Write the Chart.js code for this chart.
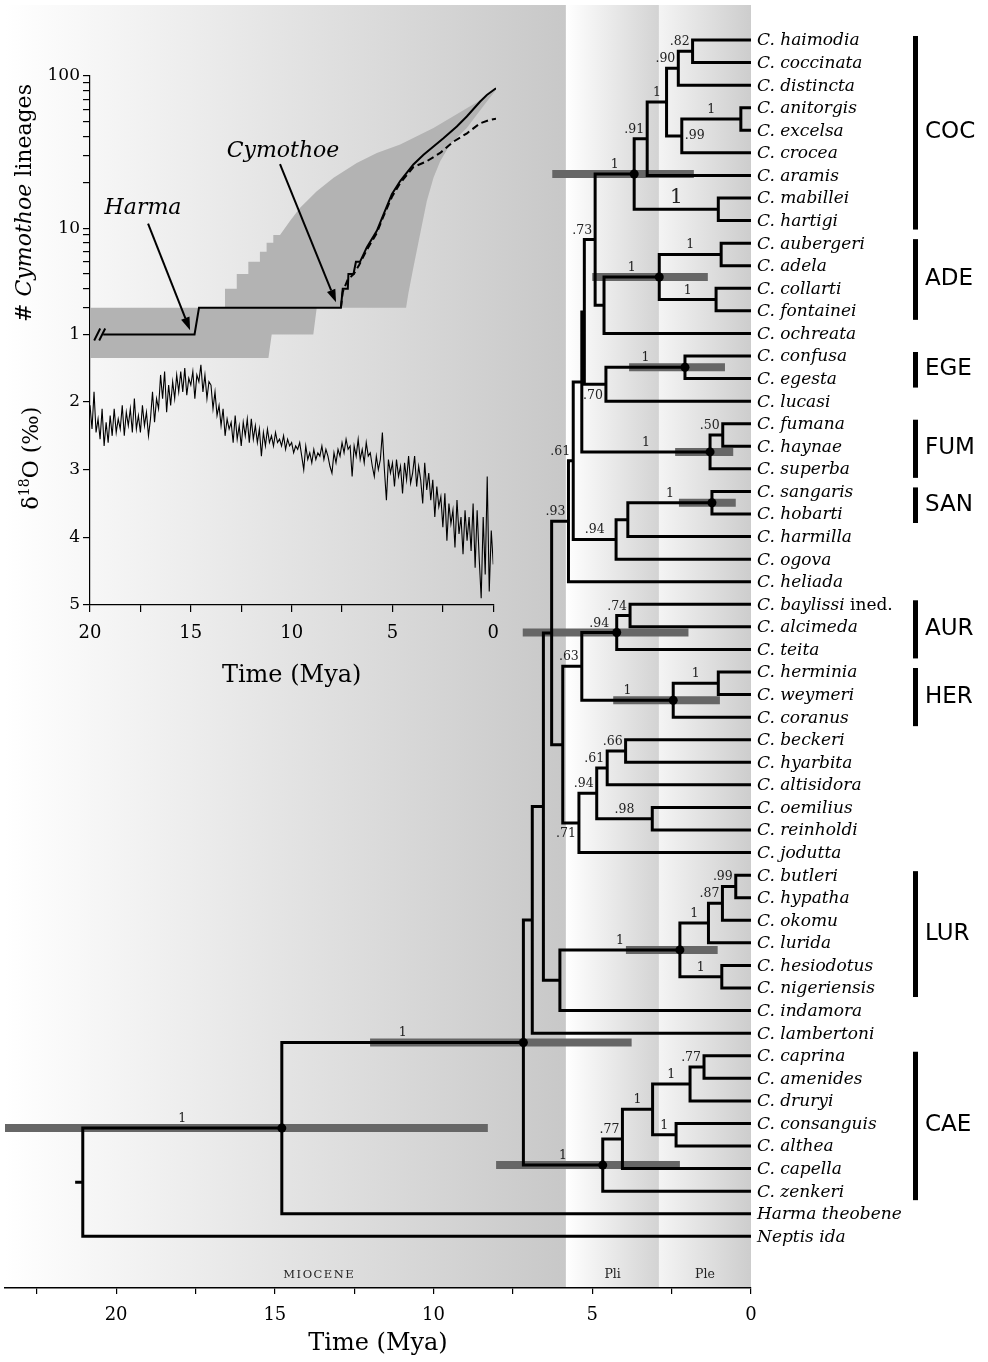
<!DOCTYPE html>
<html>
<head>
  <meta charset="utf-8">
  <title>Cymothoe chronogram</title>
  <script src="https://cdn.jsdelivr.net/npm/chart.js"></script>
  <style>
    body { margin: 0; background: #fff; }
    #wrap { position: relative; width: 988px; height: 1362px; }
    canvas { position: absolute; left: 0; }
  </style>
</head>
<body>
<div id="wrap">
  <canvas id="treeChart" width="988" height="1362" style="top:0"></canvas>
  <canvas id="lttChart" width="510" height="358" style="top:0"></canvas>
  <canvas id="isoChart" width="510" height="342" style="top:358px"></canvas>
</div>
<script>
// ------------------- DATA --------------------
const tips = [
  'C. haimodia', 'C. coccinata', 'C. distincta', 'C. anitorgis', 'C. excelsa', 'C. crocea',
  'C. aramis', 'C. mabillei', 'C. hartigi', 'C. aubergeri', 'C. adela', 'C. collarti',
  'C. fontainei', 'C. ochreata', 'C. confusa', 'C. egesta', 'C. lucasi', 'C. fumana',
  'C. haynae', 'C. superba', 'C. sangaris', 'C. hobarti', 'C. harmilla', 'C. ogova',
  'C. heliada', 'C. baylissi ined.', 'C. alcimeda', 'C. teita', 'C. herminia', 'C. weymeri',
  'C. coranus', 'C. beckeri', 'C. hyarbita', 'C. altisidora', 'C. oemilius', 'C. reinholdi',
  'C. jodutta', 'C. butleri', 'C. hypatha', 'C. okomu', 'C. lurida', 'C. hesiodotus',
  'C. nigeriensis', 'C. indamora', 'C. lambertoni', 'C. caprina', 'C. amenides', 'C. druryi',
  'C. consanguis', 'C. althea', 'C. capella', 'C. zenkeri', 'Harma theobene', 'Neptis ida'
];

// internal nodes: id, child 1, child 2, age (Mya), posterior support
const nodes = [
  ['n1', 'C. haimodia', 'C. coccinata', 1.84, '.82'],
  ['n2', 'n1', 'C. distincta', 2.29, '.90'],
  ['n3', 'C. anitorgis', 'C. excelsa', 0.32, '1'],
  ['n4', 'n3', 'C. crocea', 2.18, '.99'],
  ['n5', 'n2', 'n4', 2.66, '1'],
  ['n6', 'n5', 'C. aramis', 3.27, '.91'],
  ['n7', 'C. mabillei', 'C. hartigi', 1.03, '1'],
  ['n8', 'n6', 'n7', 3.68, '1'],
  ['n9', 'C. aubergeri', 'C. adela', 0.94, '1'],
  ['n10', 'C. collarti', 'C. fontainei', 1.10, '1'],
  ['n11', 'n9', 'n10', 2.89, '1'],
  ['n12', 'n11', 'C. ochreata', 4.63, null],
  ['n13', 'n8', 'n12', 4.91, '.73'],
  ['n14', 'C. confusa', 'C. egesta', 2.08, '1'],
  ['n15', 'n14', 'C. lucasi', 4.57, '.70'],
  ['n16', 'n13', 'n15', 5.25, null],
  ['n17', 'C. fumana', 'C. haynae', 0.89, '.50'],
  ['n18', 'n17', 'C. superba', 1.29, '1'],
  ['n19', 'n16', 'n18', 5.33, null],
  ['n20', 'C. sangaris', 'C. hobarti', 1.23, '1'],
  ['n21', 'n20', 'C. harmilla', 3.88, null],
  ['n22', 'n21', 'C. ogova', 4.25, '.94'],
  ['n23', 'n19', 'n22', 5.60, '.61'],
  ['n24', 'n23', 'C. heliada', 5.75, '.93'],
  ['n25', 'C. baylissi ined.', 'C. alcimeda', 3.81, '.74'],
  ['n26', 'n25', 'C. teita', 4.23, '.94'],
  ['n27', 'C. herminia', 'C. weymeri', 1.03, '1'],
  ['n28', 'n27', 'C. coranus', 2.45, '1'],
  ['n29', 'n26', 'n28', 5.33, '.63'],
  ['n30', 'C. beckeri', 'C. hyarbita', 3.95, '.66'],
  ['n31', 'n30', 'C. altisidora', 4.53, '.61'],
  ['n32', 'C. oemilius', 'C. reinholdi', 3.11, '.98'],
  ['n33', 'n31', 'n32', 4.86, '.94'],
  ['n34', 'n33', 'C. jodutta', 5.42, '.71'],
  ['n35', 'n29', 'n34', 5.93, null],
  ['n36', 'n24', 'n35', 6.28, null],
  ['n37', 'C. butleri', 'C. hypatha', 0.48, '.99'],
  ['n38', 'n37', 'C. okomu', 0.90, '.87'],
  ['n39', 'n38', 'C. lurida', 1.34, '1'],
  ['n40', 'C. hesiodotus', 'C. nigeriensis', 0.92, '1'],
  ['n41', 'n39', 'n40', 2.24, '1'],
  ['n42', 'n41', 'C. indamora', 6.02, null],
  ['n43', 'n36', 'n42', 6.54, null],
  ['n44', 'n43', 'C. lambertoni', 6.89, null],
  ['n45', 'C. caprina', 'C. amenides', 1.48, '.77'],
  ['n46', 'n45', 'C. druryi', 1.92, '1'],
  ['n47', 'C. consanguis', 'C. althea', 2.36, '1'],
  ['n48', 'n46', 'n47', 3.10, '1'],
  ['n49', 'n48', 'C. capella', 4.05, '.77'],
  ['n50', 'n49', 'C. zenkeri', 4.67, '1'],
  ['n51', 'n44', 'n50', 7.17, '1'],
  ['n52', 'n51', 'Harma theobene', 14.78, '1'],
  ['n53', 'n52', 'Neptis ida', 21.05, null]
];
const rootStemAge = 21.29;

// 95% HPD of node ages (old, young)
const hpdNodes = ['n8', 'n11', 'n14', 'n18', 'n20', 'n26', 'n28', 'n41', 'n50', 'n51', 'n52'];
const hpdOld   = [6.26, 5.00, 3.84, 2.39, 2.27, 7.19, 4.34, 3.94, 8.03, 12.0, 23.53];
const hpdYoung = [1.80, 1.36, 0.82, 0.56, 0.48, 1.97, 0.98, 1.05, 2.24, 3.76, 8.29];

const labelRight = ['n4'];
const labelBelow = ['n15', 'n34'];
const labelLarge = ['n7'];

const cladeNames = ['COC', 'ADE', 'EGE', 'FUM', 'SAN', 'AUR', 'HER', 'LUR', 'CAE'];
const cladeFirst = ['C. haimodia', 'C. aubergeri', 'C. confusa', 'C. fumana', 'C. sangaris',
                    'C. baylissi ined.', 'C. herminia', 'C. butleri', 'C. caprina'];
const cladeLast  = ['C. hartigi', 'C. fontainei', 'C. egesta', 'C. superba', 'C. hobarti',
                    'C. teita', 'C. coranus', 'C. nigeriensis', 'C. zenkeri'];

const epochNames = ['MIOCENE', 'Pli', 'Ple'];
const epochStart = [23.5, 5.83, 2.9];
const epochEnd   = [5.83, 2.9, 0];
const epochLabelAge = [13.6, 4.36, 1.45];

// lineage-through-time inset
const lttSolidAge = [19.35, 14.85, 14.63, 7.64, 7.55, 7.3, 7.27, 7.02, 6.9, 6.7, 6.36, 5.87, 5.54, 5.13,
                     4.72, 4.07, 3.57, 2.59, 1.93, 1.44, 0.78, 0.45, 0];
const lttSolidN   = [2, 2, 3, 3, 4, 4, 5, 5, 6, 6, 7.5, 9.6, 12.3, 16.7,
                     20.4, 26.2, 30.4, 39, 46.6, 54.2, 68, 75, 83];
const lttDashAge  = [7.64, 7.55, 7.3, 7.0, 6.75, 6.36, 5.87, 5.54, 5.13, 4.72, 4.07, 3.41, 2.75,
                     2.1, 1.43, 0.78, 0.29, 0];
const lttDashN    = [3, 3.8, 4.6, 5, 5.7, 7.2, 9.3, 12, 16, 19.8, 25.2, 27.5, 31.2,
                     37, 42, 48.9, 51.5, 52.4];
const envAge = [20, 13.35, 13.35, 12.77, 12.77, 12.2, 12.2, 11.63, 11.63, 11.3, 11.3, 10.97, 10.97,
                10.64, 10.14, 9.65, 8.83, 8.0, 6.86, 5.87, 4.72, 3.08, 1.44, 0.45, 0,
                0.45, 1.44, 2.26, 2.75, 3.08, 3.41, 3.74, 4.07, 4.32, 4.43,
                8.83, 9.0, 11.05, 11.21, 20, 20];
const envN   = [3, 3, 4, 4, 5, 5, 6, 6, 7, 7, 8, 8, 9,
                9, 11.2, 13.6, 17.5, 21.4, 26.8, 31.2, 35.4, 45.5, 61.4, 73.3, 81,
                68, 45.5, 35.4, 27.5, 21.4, 15, 9.1, 5.5, 3.7, 3.0,
                3, 2, 2, 1.4, 1.4, 3];
const lttTickValues = [2, 3, 4, 5, 6, 7, 8, 9, 10, 20, 30, 40, 50, 60, 70, 80, 90, 100];
const lttTickText   = ['1', '', '', '', '', '', '', '', '10', '', '', '', '', '', '', '', '', '100'];

const arrowText = ['Harma', 'Cymothoe'];
const arrowTextAge = [17.39, 10.49];
const arrowTextN   = [13.4, 31.9];
const arrowFromAge = [17.14, 10.64];
const arrowFromN   = [10.7, 26.3];
const arrowToAge   = [15.07, 7.88];
const arrowToN     = [2.13, 3.25];

// benthic d18O record, read every 0.1 Myr from 20 Mya to present
const isoStartAge = 20;
const isoStep = 0.1;
const isoValues = [
  2.05, 2.40, 1.85, 2.45, 2.25,
  2.55, 2.10, 2.65, 2.30, 2.60,
  2.20, 2.50, 2.10, 2.45, 2.25,
  2.40, 2.05, 2.50, 2.15, 2.35,
  2.10, 2.45, 1.95, 2.40, 2.20,
  2.45, 2.05, 2.35, 2.15, 2.50,
  2.25, 1.85, 2.30, 1.95, 2.10,
  1.60, 1.95, 1.55, 2.15, 1.75,
  2.05, 1.70, 1.95, 1.60, 1.85,
  1.55, 1.85, 1.50, 1.90, 1.65,
  1.75, 1.55, 1.95, 1.60, 1.70,
  1.45, 1.85, 1.60, 1.95, 1.70,
  1.75, 2.10, 1.85, 2.20, 2.05,
  2.35, 2.10, 2.50, 2.25, 2.40,
  2.30, 2.60, 2.20, 2.55, 2.35,
  2.65, 2.30, 2.50, 2.25, 2.60,
  2.25, 2.55, 2.35, 2.60, 2.40,
  2.80, 2.45, 2.65, 2.40, 2.60,
  2.50, 2.65, 2.45, 2.60, 2.55,
  2.65, 2.50, 2.70, 2.55, 2.65,
  2.60, 2.75, 2.65, 2.70, 2.60,
  2.80, 3.00, 2.65, 2.85, 2.75,
  2.90, 2.70, 2.85, 2.75, 2.80,
  2.65, 2.85, 2.70, 2.80, 2.95,
  3.05, 2.75, 2.90, 2.70, 2.80,
  2.60, 2.75, 2.55, 2.70, 2.65,
  3.10, 2.65, 2.80, 2.55, 2.85,
  2.70, 2.90, 2.60, 2.80, 2.75,
  2.95, 3.10, 2.80, 3.00, 2.85,
  2.45, 3.00, 3.45, 2.85, 3.05,
  2.90, 3.25, 2.85, 3.10, 2.95,
  3.35, 2.90, 3.15, 2.80, 3.20,
  3.05, 2.80, 3.25, 2.95, 3.15,
  3.50, 2.90, 3.30, 3.05, 3.45,
  3.15, 3.70, 3.25, 3.55, 3.40,
  3.85, 3.35, 4.05, 3.50, 3.80,
  3.60, 4.15, 3.45, 3.95, 3.70,
  4.25, 3.60, 4.05, 3.70, 4.20,
  3.50, 4.45, 3.60, 4.30, 4.90,
  3.70, 4.55, 3.10, 4.80, 3.90,
  4.40
];

// ------------------- TREE GEOMETRY --------------------
const SERIF = '"DejaVu Serif", serif';
const nodeAge = {}, nodeY = {}, parentOf = {};
function yOf(k) { return k in nodeY ? nodeY[k] : tips.indexOf(k); }
function ageOf(k) { return k in nodeAge ? nodeAge[k] : 0; }
nodes.forEach(([id, a, b, age]) => {
  nodeAge[id] = age;
  nodeY[id] = (yOf(a) + yOf(b)) / 2;
  parentOf[a] = id; parentOf[b] = id;
});

const branchPts = [];
nodes.forEach(([id, a, b, age]) => {
  [a, b].forEach(c => {
    branchPts.push({x: age, y: nodeY[id]}, {x: age, y: yOf(c)}, {x: ageOf(c), y: yOf(c)}, {x: null, y: null});
  });
});
branchPts.push({x: rootStemAge, y: nodeY.n53}, {x: nodeAge.n53, y: nodeY.n53});

const hpdPts = [];
hpdNodes.forEach((id, i) => {
  hpdPts.push({x: hpdOld[i], y: nodeY[id]}, {x: hpdYoung[i], y: nodeY[id]}, {x: null, y: null});
});
const dotPts = hpdNodes.map(id => ({x: nodeAge[id], y: nodeY[id]}));

// vertical axes keep their full height (no extra room for edge labels)
function fixAxisWidth(s) {
  s.width = 90;
  s.paddingTop = 0;
  s.paddingBottom = 0;
}

// ------------------- TREE PLUGIN --------------------
const epochShade = [['#ffffff', '#c8c8c8'], ['#ffffff', '#d3d3d3'], ['#f4f4f4', '#cdcdcd']];

const treeDecor = {
  id: 'treeDecor',
  beforeDraw(chart) {
    const {ctx, chartArea: a, scales: {x}} = chart;
    ctx.save();
    epochNames.forEach((name, i) => {
      const x0 = x.getPixelForValue(epochStart[i]), x1 = x.getPixelForValue(epochEnd[i]);
      const g = ctx.createLinearGradient(x0, 0, x1, 0);
      g.addColorStop(0, epochShade[i][0]);
      g.addColorStop(1, epochShade[i][1]);
      ctx.fillStyle = g;
      ctx.fillRect(x0, a.top, x1 - x0, a.bottom - a.top);
    });
    ctx.restore();
  },
  beforeDatasetsDraw(chart) {
    const {ctx, chartArea: a, scales: {x}} = chart;
    ctx.save();
    ctx.fillStyle = '#222';
    ctx.textAlign = 'center';
    ctx.textBaseline = 'middle';
    epochNames.forEach((name, i) => {
      ctx.font = (i === 0 ? '11.5px ' : '12.5px ') + SERIF;
      ctx.letterSpacing = i === 0 ? '1.5px' : '0px';
      ctx.fillText(name, x.getPixelForValue(epochLabelAge[i]), a.bottom - 13);
    });
    ctx.restore();
  },
  afterDatasetsDraw(chart) {
    const {ctx, scales: {x, y}} = chart;
    ctx.save();
    ctx.fillStyle = '#222';
    nodes.forEach(([id, a, b, age, sup]) => {
      if (!sup) return;
      const big = labelLarge.includes(id);
      ctx.font = (big ? '20px ' : '12.5px ') + SERIF;
      const x2 = x.getPixelForValue(age);
      const x1 = x.getPixelForValue(parentOf[id] ? nodeAge[parentOf[id]] : rootStemAge);
      const py = y.getPixelForValue(nodeY[id]);
      const w = ctx.measureText(sup).width;
      if (labelRight.includes(id)) {
        ctx.textAlign = 'left'; ctx.textBaseline = 'middle';
        ctx.fillText(sup, x2 + 3, py);
      } else if (labelBelow.includes(id)) {
        ctx.textAlign = 'right'; ctx.textBaseline = 'top';
        ctx.fillText(sup, x2 - 3, py + 5);
      } else if (w + 4 < x2 - x1) {
        ctx.textAlign = 'center'; ctx.textBaseline = 'bottom';
        ctx.fillText(sup, (x1 + x2) / 2, py - (big ? 1 : 3));
      } else {
        ctx.textAlign = 'right'; ctx.textBaseline = 'bottom';
        ctx.fillText(sup, x2 - 3, py - 3);
      }
    });
    ctx.restore();
  },
  afterDraw(chart) {
    const {ctx, chartArea: a, scales: {x, y}} = chart;
    ctx.save();
    ctx.fillStyle = '#000';
    ctx.textBaseline = 'middle';
    ctx.textAlign = 'left';
    const x0 = x.getPixelForValue(0) + 6;
    tips.forEach((name, i) => {
      const py = y.getPixelForValue(i) + 1;
      const ined = name.endsWith(' ined.');
      const main = ined ? name.slice(0, -6) : name;
      ctx.font = 'italic 17px ' + SERIF;
      ctx.fillText(main, x0, py);
      if (ined) {
        const w = ctx.measureText(main).width;
        ctx.font = '17px ' + SERIF;
        ctx.fillText(' ined.', x0 + w, py);
      }
    });
    // clade bars
    ctx.font = '23px "DejaVu Sans", sans-serif';
    cladeNames.forEach((name, i) => {
      const y0 = y.getPixelForValue(tips.indexOf(cladeFirst[i]));
      const y1 = y.getPixelForValue(tips.indexOf(cladeLast[i]));
      ctx.fillRect(a.right + 162, y0 - 4, 5, y1 - y0 + 13);
      ctx.fillText(name, a.right + 174, (y0 + y1) / 2 + 2);
    });
    ctx.restore();
  }
};

// ------------------- MAIN TREE CHART --------------------
const treeChart = new Chart(document.getElementById('treeChart'), {
  type: 'scatter',
  data: {
    datasets: [
      { data: dotPts, pointRadius: 4.5, pointBackgroundColor: '#000', pointBorderWidth: 0, order: 0 },
      { data: branchPts, showLine: true, borderColor: '#000', borderWidth: 3, pointRadius: 0,
        borderJoinStyle: 'miter', borderCapStyle: 'butt', spanGaps: false, order: 1 },
      { data: hpdPts, showLine: true, borderColor: '#666666', borderWidth: 8, pointRadius: 0,
        borderCapStyle: 'butt', spanGaps: false, order: 2 }
    ]
  },
  options: {
    responsive: false,
    animation: false,
    devicePixelRatio: 1,
    layout: { padding: { left: 5, right: 237, top: 5, bottom: 0 } },
    plugins: { legend: { display: false }, tooltip: { enabled: false } },
    scales: {
      x: {
        type: 'linear', min: 0, max: 23.5, reverse: true,
        afterFit: (s) => { s.height = 74; },
        grid: { drawOnChartArea: false, tickLength: 6, color: '#000', lineWidth: 1.2 },
        border: { color: '#000', width: 1.5 },
        ticks: {
          stepSize: 2.5, includeBounds: false, autoSkip: false, maxRotation: 0, padding: 11,
          color: '#000', font: { family: SERIF, size: 18 },
          callback: (v) => (v % 5 === 0 ? String(v) : '')
        },
        title: { display: true, text: 'Time (Mya)', color: '#000',
                 font: { family: SERIF, size: 24 }, padding: { top: 0, bottom: 4 } }
      },
      y: { display: false, min: -1.55, max: 55.29, reverse: true }
    }
  },
  plugins: [treeDecor]
});

// ------------------- LTT INSET --------------------
function drawArrow(ctx, x1, y1, x2, y2) {
  const ang = Math.atan2(y2 - y1, x2 - x1), L = 13, W = 4.5;
  const bx = x2 - L * Math.cos(ang), by = y2 - L * Math.sin(ang);
  ctx.beginPath(); ctx.moveTo(x1, y1); ctx.lineTo(bx, by); ctx.stroke();
  ctx.beginPath(); ctx.moveTo(x2, y2);
  ctx.lineTo(bx + W * Math.sin(ang), by - W * Math.cos(ang));
  ctx.lineTo(bx - W * Math.sin(ang), by + W * Math.cos(ang));
  ctx.closePath(); ctx.fill();
}

const lttDecor = {
  id: 'lttDecor',
  afterDraw(chart) {
    const {ctx, scales: {x, y}} = chart;
    ctx.save();
    ctx.strokeStyle = '#000'; ctx.fillStyle = '#000'; ctx.lineWidth = 2;
    // axis break marks
    const bx = x.getPixelForValue(lttSolidAge[0]), by = y.getPixelForValue(2);
    [-6, -1].forEach(d => {
      ctx.beginPath(); ctx.moveTo(bx + d - 3, by + 6); ctx.lineTo(bx + d + 3, by - 6); ctx.stroke();
    });
    ctx.font = 'italic 22px ' + SERIF;
    ctx.textAlign = 'center'; ctx.textBaseline = 'middle';
    arrowText.forEach((t, i) => {
      ctx.fillText(t, x.getPixelForValue(arrowTextAge[i]), y.getPixelForValue(arrowTextN[i]));
      drawArrow(ctx, x.getPixelForValue(arrowFromAge[i]), y.getPixelForValue(arrowFromN[i]),
                x.getPixelForValue(arrowToAge[i]), y.getPixelForValue(arrowToN[i]));
    });
    // rotated axis title with italic genus name
    ctx.translate(25, 203);
    ctx.rotate(-Math.PI / 2);
    const parts = [['# ', ''], ['Cymothoe', 'italic '], [' lineages', '']];
    let total = 0;
    parts.forEach(([s, st]) => { ctx.font = st + '22px ' + SERIF; total += ctx.measureText(s).width; });
    let cx = -total / 2;
    ctx.textAlign = 'left';
    parts.forEach(([s, st]) => {
      ctx.font = st + '22px ' + SERIF;
      ctx.fillText(s, cx, 0);
      cx += ctx.measureText(s).width;
    });
    ctx.restore();
  }
};

const lttChart = new Chart(document.getElementById('lttChart'), {
  type: 'scatter',
  data: {
    datasets: [
      { data: lttSolidAge.map((a, i) => ({x: a, y: lttSolidN[i]})), showLine: true,
        borderColor: '#000', borderWidth: 2, pointRadius: 0, order: 0 },
      { data: lttDashAge.map((a, i) => ({x: a, y: lttDashN[i]})), showLine: true,
        borderColor: '#000', borderWidth: 2, borderDash: [7, 4], pointRadius: 0, order: 1 },
      { data: envAge.map((a, i) => ({x: a, y: envN[i]})), showLine: true, fill: 'shape',
        borderColor: 'rgba(0,0,0,0)', borderWidth: 0, backgroundColor: '#b3b3b3', pointRadius: 0, order: 2 }
    ]
  },
  options: {
    responsive: false,
    animation: false,
    devicePixelRatio: 1,
    layout: { padding: { left: 0, right: 14, top: 76, bottom: 0 } },
    plugins: { legend: { display: false }, tooltip: { enabled: false } },
    scales: {
      x: { type: 'linear', min: 0, max: 20, reverse: true, display: false },
      y: {
        type: 'logarithmic', min: 1.4, max: 100, bounds: 'data',
        afterFit: fixAxisWidth,
        afterBuildTicks: (s) => { s.ticks = lttTickValues.map(v => ({value: v})); },
        grid: { drawOnChartArea: false, tickLength: 7, color: '#000', lineWidth: 1.2 },
        border: { color: '#000', width: 1.2 },
        ticks: {
          autoSkip: false, padding: 3, color: '#000', font: { family: SERIF, size: 17 },
          callback: (v) => lttTickText[lttTickValues.indexOf(v)]
        }
      }
    }
  },
  plugins: [lttDecor]
});

// ------------------- d18O INSET --------------------
const isoDecor = {
  id: 'isoDecor',
  afterDraw(chart) {
    const {ctx} = chart;
    ctx.save();
    ctx.fillStyle = '#000';
    ctx.translate(30, 100);
    ctx.rotate(-Math.PI / 2);
    ctx.textBaseline = 'alphabetic';
    ctx.textAlign = 'left';
    ctx.font = '22px ' + SERIF;
    const wD = ctx.measureText('δ').width;
    const rest = 'O (‰)';
    const wR = ctx.measureText(rest).width;
    ctx.font = '14px ' + SERIF;
    const wS = ctx.measureText('18').width;
    let cx = -(wD + wS + wR) / 2;
    ctx.font = '22px ' + SERIF;
    ctx.fillText('δ', cx, 8);
    cx += wD;
    ctx.font = '14px ' + SERIF;
    ctx.fillText('18', cx, -1);
    cx += wS;
    ctx.font = '22px ' + SERIF;
    ctx.fillText(rest, cx, 8);
    ctx.restore();
  }
};

const isoChart = new Chart(document.getElementById('isoChart'), {
  type: 'scatter',
  data: {
    datasets: [{
      data: isoValues.map((v, k) => ({x: Math.round((isoStartAge - k * isoStep) * 10) / 10, y: v})),
      showLine: true, borderColor: '#000', borderWidth: 1.1, pointRadius: 0
    }]
  },
  options: {
    responsive: false,
    animation: false,
    devicePixelRatio: 1,
    layout: { padding: { left: 0, right: 14, top: 0, bottom: 0 } },
    plugins: { legend: { display: false }, tooltip: { enabled: false } },
    scales: {
      x: {
        type: 'linear', min: 0, max: 20, reverse: true,
        afterFit: (s) => { s.height = 95; },
        grid: { drawOnChartArea: false, tickLength: 7, color: '#000', lineWidth: 1.2 },
        border: { color: '#000', width: 1.2 },
        ticks: {
          stepSize: 2.5, includeBounds: false, autoSkip: false, maxRotation: 0, padding: 11,
          color: '#000', font: { family: SERIF, size: 18 },
          callback: (v) => (v % 5 === 0 ? String(v) : '')
        },
        title: { display: true, text: 'Time (Mya)', color: '#000',
                 font: { family: SERIF, size: 24 }, padding: { top: 0, bottom: 10 } }
      },
      y: {
        type: 'linear', min: 1.35, max: 5, reverse: true,
        afterFit: fixAxisWidth,
        grid: { drawOnChartArea: false, tickLength: 7, color: '#000', lineWidth: 1.2 },
        border: { color: '#000', width: 1.2 },
        ticks: { stepSize: 1, includeBounds: false, padding: 3, color: '#000',
                 font: { family: SERIF, size: 17 } }
      }
    }
  },
  plugins: [isoDecor]
});
</script>
</body>
</html>
